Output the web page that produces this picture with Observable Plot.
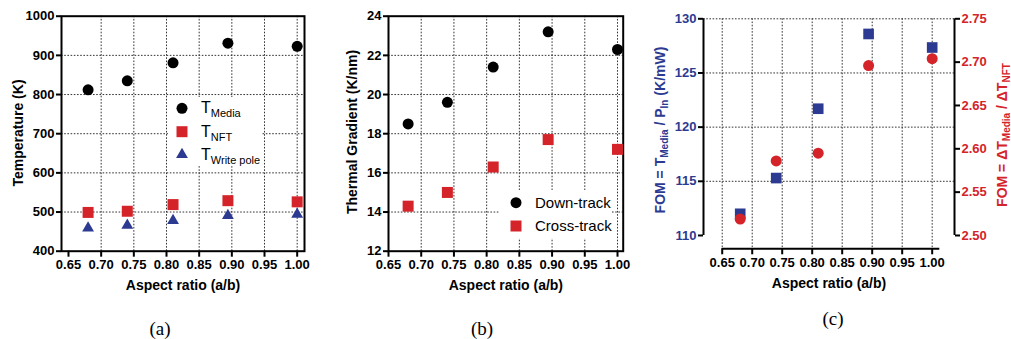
<!DOCTYPE html>
<html><head><meta charset="utf-8">
<script src="https://cdn.jsdelivr.net/npm/d3@7"></script>
<script src="https://cdn.jsdelivr.net/npm/@observablehq/plot@0.6"></script>
<style>
body{margin:0;background:#fff;}
#wrap{position:relative;width:1011px;height:339px;overflow:hidden;font-family:"Liberation Sans",Arial,sans-serif;}
#wrap svg{position:absolute;top:0;}
.cap{position:absolute;font-family:"Liberation Serif","Times New Roman",serif;font-size:19px;transform:translate(-50%,-50%);line-height:1;}
</style></head><body><div id="wrap"></div>
<script>
// ---- data ----
const aspect = [0.68, 0.74, 0.81, 0.894, 1.00];
const tMedia = [812, 835, 881, 931, 923];
const tNFT = [499, 502, 519, 529, 526];
const tWritePole = [459, 466, 478, 491, 494];
const downTrack = [18.5, 19.6, 21.4, 23.2, 22.3];
const crossTrack = [14.3, 15.0, 16.3, 17.7, 17.2];
const fomPower = [112.0, 115.3, 121.7, 128.6, 127.35];
const fomRatio = [2.519, 2.586, 2.595, 2.696, 2.704];
const xTicks = [0.65, 0.70, 0.75, 0.80, 0.85, 0.90, 0.95, 1.00];
const tempTicks = [400, 500, 600, 700, 800, 900, 1000];
const gradTicks = [12, 14, 16, 18, 20, 22, 24];
const fomPowerTicks = [110, 115, 120, 125, 130];
const fomRatioTicks = [2.50, 2.55, 2.60, 2.65, 2.70, 2.75];
const legendA = ["Media", "NFT", "Write pole"];
const legendB = ["Down-track", "Cross-track"];
const captions = ["(a)", "(b)", "(c)"];

const RED = "#d42329", BLUE = "#2c3a91";
const GRID = {stroke: "#333", strokeOpacity: 1, strokeWidth: 1, strokeDasharray: "1.6,1.6"};
const STYLE = {fontFamily: "Liberation Sans, Arial, sans-serif", fontSize: "13px", fontWeight: "bold", color: "#000", background: "transparent", overflow: "visible"};
const fmt2 = d => d.toFixed(2);
const fmtInt = d => String(d);
const wrap = document.getElementById("wrap");

// rotated axis titles (with optional subscripts)
function yTitle(svg, x, y, parts, color) {
  const t = d3.select(svg).append("text")
    .attr("transform", `translate(${x},${y}) rotate(-90)`)
    .attr("text-anchor", "middle").attr("dominant-baseline", "middle").attr("fill", color)
    .attr("font-size", 14).attr("font-weight", "bold")
    .attr("font-family", "Liberation Sans, Arial, sans-serif");
  let shifted = false;
  parts.forEach(([s, sub]) => {
    const ts = t.append("tspan").text(s);
    if (sub && !shifted) { ts.attr("dy", 4).attr("font-size", 10); shifted = true; }
    else if (sub) { ts.attr("font-size", 10); }
    else if (!sub && shifted) { ts.attr("dy", -4); shifted = false; }
  });
}

// ---- panel (a) ----
const dA = aspect.map((x, i) => ({x, media: tMedia[i], nft: tNFT[i], wp: tWritePole[i]}));
const pA = Plot.plot({
  width: 330, height: 339, marginLeft: 61, marginRight: 26, marginTop: 15.7, marginBottom: 88.3,
  x: {domain: [0.6393, 1.0112]}, y: {domain: [400, 1000]}, style: STYLE,
  marks: [
    Plot.gridX(xTicks.slice(1), GRID),
    Plot.gridY(tempTicks.slice(1, -1), GRID),
    Plot.frame({stroke: "#000", strokeWidth: 2}),
    Plot.axisX(xTicks, {tickSize: 6, tickPadding: 3, tickFormat: fmt2, strokeWidth: 2, label: null}),
    Plot.axisY(tempTicks, {tickSize: 5, tickPadding: 2, tickFormat: fmtInt, strokeWidth: 2, label: null}),
    Plot.text(["Aspect ratio (a/b)"], {frameAnchor: "bottom", textAnchor: "middle", dy: 39, fontSize: 14, fontWeight: "bold"}),
    Plot.dot(dA, {x: "x", y: "media", r: 5.5, fill: "#000"}),
    Plot.dot(dA, {x: "x", y: "nft", symbol: "square", r: 6.2, fill: RED}),
    Plot.dot(dA, {x: "x", y: "wp", symbol: "triangle", r: 4.4, fill: BLUE})
  ]
});
pA.style.left = "0px";
wrap.appendChild(pA);
yTitle(pA, 18.5, 133, [["Temperature (K)"]], "#000");

// ---- panel (b) ----
const dB = aspect.map((x, i) => ({x, down: downTrack[i], cross: crossTrack[i]}));
const pB = Plot.plot({
  width: 300, height: 339, marginLeft: 58, marginRight: 7.3, marginTop: 15.7, marginBottom: 88.3,
  x: {domain: [0.65, 1.0087]}, y: {domain: [12, 24]}, style: STYLE,
  marks: [
    Plot.gridX(xTicks.slice(1), GRID),
    Plot.gridY(gradTicks.slice(1, -1), GRID),
    Plot.frame({stroke: "#000", strokeWidth: 2}),
    Plot.axisX(xTicks, {tickSize: 6, tickPadding: 3, tickFormat: fmt2, strokeWidth: 2, label: null}),
    Plot.axisY(gradTicks, {tickSize: 5, tickPadding: 2, tickFormat: fmtInt, strokeWidth: 2, label: null}),
    Plot.text(["Aspect ratio (a/b)"], {frameAnchor: "bottom", textAnchor: "middle", dy: 39, fontSize: 14, fontWeight: "bold"}),
    Plot.dot(dB, {x: "x", y: "down", r: 5.5, fill: "#000"}),
    Plot.dot(dB, {x: "x", y: "cross", symbol: "square", r: 6.2, fill: RED})
  ]
});
pB.style.left = "330px";
wrap.appendChild(pB);
yTitle(pB, 23, 132, [["Thermal Gradient (K/nm)"]], "#000");

// ---- panel (c) ----
const xDomC = [0.6188, 1.0372], yDomC = [108.77, 130];
const toLeft = v => 110 + (v - 2.5) * 80;      // right-axis value -> left-axis units
const fromLeft = v => (v - 110) / 80 + 2.5;
const dC = aspect.map((x, i) => ({x, p: fomPower[i], r: toLeft(fomRatio[i])}));
const pC = Plot.plot({
  width: 371, height: 339, marginLeft: 63, marginRight: 57, marginTop: 18.3, marginBottom: 90.7,
  x: {domain: xDomC}, y: {domain: yDomC}, style: STYLE,
  marks: [
    Plot.gridX(xTicks, GRID),
    Plot.gridY(fomPowerTicks.slice(1), GRID),
    Plot.ruleX([xDomC[0], xDomC[1]], {y1: fomPowerTicks[0], y2: fomPowerTicks[fomPowerTicks.length - 1], stroke: "#000", strokeWidth: 2}),
    Plot.ruleY([yDomC[0]], {x1: xTicks[0], x2: 1.0127, stroke: "#000", strokeWidth: 2}),
    Plot.axisX(xTicks, {tickSize: 6, tickPadding: 3, tickFormat: fmt2, strokeWidth: 2, label: null, fill: "#000", stroke: "#000"}),
    Plot.axisY(fomPowerTicks, {anchor: "left", tickSize: 5, tickPadding: 2, tickFormat: fmtInt, strokeWidth: 2, label: null, fill: BLUE, stroke: "#000"}),
    Plot.axisY(fomRatioTicks.map(toLeft), {anchor: "right", tickSize: 5, tickPadding: 2, tickFormat: d => fromLeft(d).toFixed(2), strokeWidth: 2, label: null, fill: RED, stroke: "#000"}),
    Plot.text(["Aspect ratio (a/b)"], {frameAnchor: "bottom", textAnchor: "middle", dy: 39, fontSize: 14, fontWeight: "bold"}),
    Plot.dot(dC, {x: "x", y: "p", symbol: "square", r: 6.0, fill: BLUE}),
    Plot.dot(dC, {x: "x", y: "r", r: 5.5, fill: RED})
  ]
});
pC.style.left = "640px";
wrap.appendChild(pC);
yTitle(pC, 21, 130, [["FOM = T"], ["Media", 1], [" / P"], ["In", 1], [" (K/mW)"]], BLUE);
yTitle(pC, 363, 135, [["FOM = ΔT"], ["Media", 1], [" / ΔT"], ["NFT", 1]], RED);

// ---- legends overlay ----
const ov = d3.select(wrap).append("svg").attr("width", 1011).attr("height", 339).style("left", "0px").style("pointer-events", "none");
const symPath = (type, r) => d3.symbol(type, Math.PI * r * r)();
function legRow(g, x, y, type, r, color, draw) {
  g.append("path").attr("d", symPath(type, r)).attr("fill", color).attr("transform", `translate(${x},${y})`);
  draw(g.append("text").attr("x", x + 19).attr("y", y + 5).attr("font-size", 15).attr("font-family", "Liberation Sans, Arial, sans-serif"));
}
const gA = ov.append("g");
gA.append("rect").attr("x", 168).attr("y", 97).attr("width", 94).attr("height", 69).attr("fill", "#fff");
[[d3.symbolCircle, 5.5, "#000"], [d3.symbolSquare, 6.2, RED], [d3.symbolTriangle, 4.4, BLUE]].forEach(([ty, r, c], i) => {
  legRow(gA, 182, [108.3, 131.7, 154.5][i], ty, r, c, t => {
    t.append("tspan").text("T").attr("font-size", 16);
    t.append("tspan").text(legendA[i]).attr("dy", 4).attr("font-size", 11);
  });
});
const gB = ov.append("g");
gB.append("rect").attr("x", 500).attr("y", 190).attr("width", 111).attr("height", 48).attr("fill", "#fff");
[[d3.symbolCircle, 5.5, "#000"], [d3.symbolSquare, 6.2, RED]].forEach(([ty, r, c], i) => {
  legRow(gB, 516, [202.7, 226][i], ty, r, c, t => t.text(legendB[i]));
});

// ---- captions ----
[[160, 328], [482, 328], [833, 318]].forEach(([x, y], i) => {
  const d = document.createElement("div");
  d.className = "cap"; d.textContent = captions[i];
  d.style.left = x + "px"; d.style.top = y + "px";
  wrap.appendChild(d);
});
</script></body></html>
